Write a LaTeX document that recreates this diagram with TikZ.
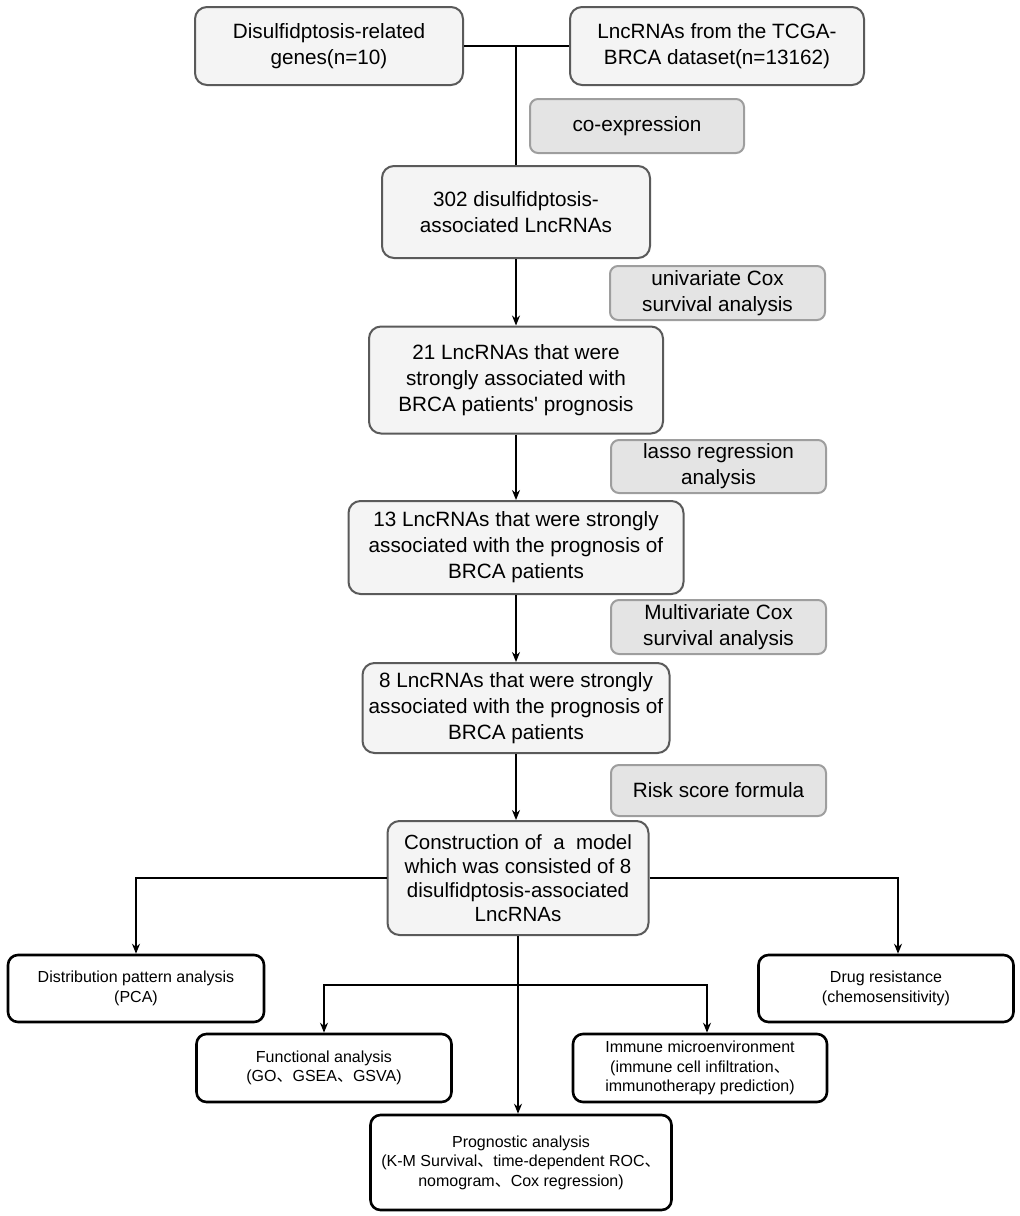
\documentclass[tikz,border=0pt]{standalone}
\usepackage{fontspec}
\setmainfont{Liberation Sans}
\newfontfamily\cjk{Noto Sans CJK SC}
\usetikzlibrary{arrows.meta}
\definecolor{boxfill}{HTML}{F4F4F4}
\definecolor{boxline}{HTML}{5A5A5A}
\definecolor{methodfill}{HTML}{E4E4E4}
\definecolor{methodline}{HTML}{9E9E9E}
\newcommand{\dun}{{\cjk 、}}

\begin{document}
\begin{tikzpicture}[x=1pt, y=-1pt,
    mainbox/.style={draw=boxline, fill=boxfill, line width=2pt, rounded corners=12pt,
        align=center, inner sep=0pt, font=\fontsize{20.7}{26}\selectfont},
    methodbox/.style={draw=methodline, fill=methodfill, line width=2pt, rounded corners=8pt,
        align=center, inner sep=0pt, minimum width=215, minimum height=54,
        font=\fontsize{20.7}{26}\selectfont},
    resultbox/.style={draw=black, fill=white, line width=2.6pt, rounded corners=10pt,
        align=center, inner sep=0pt, font=\fontsize{16}{19.5}\selectfont},
    link/.style={line width=1.3pt},
    arr/.style={link, -{Stealth[length=10pt, width=8pt]}}]
    \useasboundingbox (0,0) rectangle (1020,1216);
    %\draw[help lines, step=100] (0,0) grid (1020,1216);
    \node[mainbox, minimum width=268, minimum height=78] (genes) at (329,46)
        {Disulfidptosis-related\\genes(n=10)};
    \node[mainbox, minimum width=294, minimum height=78] (tcga) at (717,46)
        {LncRNAs from the TCGA-\\BRCA dataset(n=13162)};
    \node[methodbox, minimum width=214] (coexp) at (637,126) {co-expression};
    \node[mainbox, minimum width=268, minimum height=92] (lnc302) at (516,212)
        {302 disulfidptosis-\\associated LncRNAs};
    \node[methodbox] (unicox) at (717.5,293) {univariate Cox\\survival analysis};
    \node[mainbox, minimum width=294, minimum height=107] (lnc21) at (516,380)
        {21 LncRNAs that were\\strongly associated with\\BRCA patients\textquotesingle\ prognosis};
    \node[methodbox, minimum height=53] (lasso) at (718.5,466.5) {lasso regression\\analysis};
    \node[mainbox, minimum width=335, minimum height=93] (lnc13) at (516,547.5)
        {13 LncRNAs that were strongly\\associated with the prognosis of\\BRCA patients};
    \node[methodbox] (multicox) at (718.5,627) {Multivariate Cox\\survival analysis};
    \node[mainbox, minimum width=307, minimum height=90] (lnc8) at (516,708)
        {8 LncRNAs that were strongly\\associated with the prognosis of\\BRCA patients};
    \node[methodbox, minimum height=51] (riskscore) at (718.5,790.5) {Risk score formula};
    \node[mainbox, minimum width=261, minimum height=114,
          font=\fontsize{20.5}{24}\selectfont] (model) at (518,878)
        {Construction of \ a \ model\\which was consisted of 8\\disulfidptosis-associated\\LncRNAs};

    \node[resultbox, minimum width=256, minimum height=67] (pca) at (136,988.5)
        {Distribution pattern analysis\\(PCA)};
    \node[resultbox, minimum width=255, minimum height=67] (drug) at (886,988.5)
        {Drug resistance\\(chemosensitivity)};
    \node[resultbox, minimum width=255, minimum height=68] (func) at (324,1068)
        {Functional analysis\\(GO\dun GSEA\dun GSVA)};
    \node[resultbox, minimum width=254, minimum height=68] (immune) at (700,1068)
        {Immune microenvironment\\(immune cell infiltration\dun\\immunotherapy prediction)};
    \node[resultbox, minimum width=301, minimum height=95] (prog) at (521,1162.5)
        {Prognostic analysis\\(K-M Survival\dun time-dependent ROC\dun\\nomogram\dun Cox regression)};

    \coordinate (join) at (516,46);
    \coordinate (split) at (518,985);
    \draw[link] (genes.east) -- (tcga.west);
    \draw[link] (join) -- (lnc302.north);
    \draw[arr] (lnc302.south) -- (lnc21.north);
    \draw[arr] (lnc21.south) -- (lnc13.north);
    \draw[arr] (lnc13.south) -- (lnc8.north);
    \draw[arr] (lnc8.south) -- (lnc8.south |- model.north);
    \draw[arr] (model.west) -| (pca.north);
    \draw[arr] (model.east) -| ([xshift=12]drug.north);
    \draw[arr] (model.south) -- (model.south |- prog.north);
    \draw[arr] (split) -| (func.north);
    \draw[arr] (split) -| ([xshift=7]immune.north);
\end{tikzpicture}
\end{document}
